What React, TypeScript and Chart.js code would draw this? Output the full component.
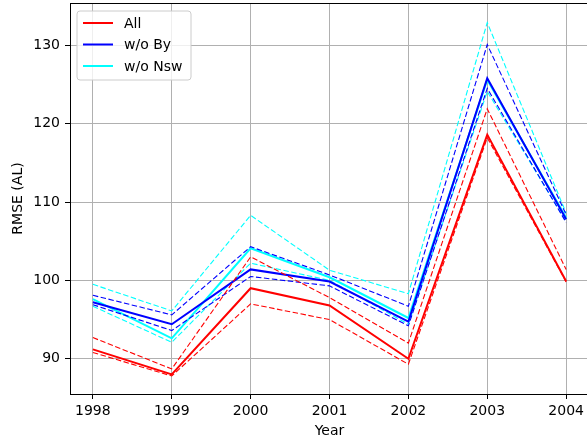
import React, { useEffect, useRef } from "react";
import { Chart, registerables } from "chart.js";

Chart.register(...registerables);

const years = [1998, 1999, 2000, 2001, 2002, 2003, 2004];
const yTicks = [90, 100, 110, 120, 130];

const allMean = [91.2, 88.0, 99.0, 96.8, 90.0, 118.6, 99.9];
const allHi = [92.7, 88.7, 103.0, 97.8, 92.0, 121.9, 101.4];
const allLo = [90.8, 87.8, 97.0, 95.0, 89.3, 118.2, 99.8];

const byMean = [97.2, 94.4, 101.4, 99.85, 94.75, 125.8, 107.8];
const byHi = [98.1, 95.6, 104.3, 100.7, 96.7, 130.1, 108.4];
const byLo = [96.9, 93.6, 100.5, 99.3, 94.2, 124.5, 107.4];

const nswMean = [97.6, 92.6, 104.1, 100.4, 95.2, 125.6, 108.0];
const nswHi = [99.5, 96.1, 108.3, 101.3, 98.3, 132.9, 108.6];
const nswLo = [96.7, 92.1, 102.2, 100.0, 94.4, 124.1, 107.5];

const seriesNames = ["All", "w/o By", "w/o Nsw"];
const seriesColors = ["#ff0000", "#0000ff", "#00ffff"];

const FONT = "'DejaVu Sans', sans-serif";
const FS = 14;

const toPts = (arr: number[]) => arr.map((v, i) => ({ x: years[i], y: v }));

export default function App() {
  const ref = useRef<HTMLCanvasElement | null>(null);

  useEffect(() => {
    if (!ref.current) return;
    const groups = [
      [allMean, allHi, allLo],
      [byMean, byHi, byLo],
      [nswMean, nswHi, nswLo],
    ];
    const datasets: any[] = [];
    groups.forEach((g, gi) => {
      const color = seriesColors[gi];
      datasets.push({
        label: seriesNames[gi],
        data: toPts(g[0]),
        borderColor: color,
        borderWidth: 2,
        pointRadius: 0,
        fill: false,
        tension: 0,
      });
      [g[1], g[2]].forEach((d) => {
        datasets.push({
          label: "",
          data: toPts(d),
          borderColor: color,
          borderWidth: 1.1,
          borderDash: [5.5, 2.5],
          pointRadius: 0,
          fill: false,
          tension: 0,
        });
      });
    });

    const framePlugin = {
      id: "frame",
      afterDraw(chart: any) {
        const { ctx, chartArea } = chart;
        ctx.save();
        ctx.strokeStyle = "#000";
        ctx.lineWidth = 1;
        ctx.strokeRect(
          Math.round(chartArea.left) + 0.5,
          Math.round(chartArea.top) + 0.5,
          chartArea.right - chartArea.left,
          chartArea.bottom - chartArea.top
        );
        // legend
        const bx = 77, by = 11, bw = 114, bh = 69;
        ctx.fillStyle = "rgba(255,255,255,0.8)";
        ctx.strokeStyle = "#cccccc";
        ctx.beginPath();
        const r = 3;
        ctx.moveTo(bx + r, by);
        ctx.lineTo(bx + bw - r, by);
        ctx.quadraticCurveTo(bx + bw, by, bx + bw, by + r);
        ctx.lineTo(bx + bw, by + bh - r);
        ctx.quadraticCurveTo(bx + bw, by + bh, bx + bw - r, by + bh);
        ctx.lineTo(bx + r, by + bh);
        ctx.quadraticCurveTo(bx, by + bh, bx, by + bh - r);
        ctx.lineTo(bx, by + r);
        ctx.quadraticCurveTo(bx, by, bx + r, by);
        ctx.closePath();
        ctx.fill();
        ctx.stroke();
        ctx.font = `${FS}px ${FONT}`;
        ctx.textBaseline = "middle";
        seriesNames.forEach((n, i) => {
          const yy = 23 + i * 21.5;
          ctx.strokeStyle = seriesColors[i];
          ctx.lineWidth = 2;
          ctx.beginPath();
          ctx.moveTo(83, yy);
          ctx.lineTo(113, yy);
          ctx.stroke();
          ctx.fillStyle = "#000";
          ctx.fillText(n, 124, yy + 1);
        });
        ctx.restore();
      },
    };

    const chart = new Chart(ref.current, {
      type: "line",
      data: { datasets },
      plugins: [framePlugin],
      options: {
        animation: false,
        responsive: false,
        maintainAspectRatio: false,
        layout: { padding: { top: 3, right: 11, left: 0, bottom: 0 } },
        plugins: {
          legend: { display: false },
          tooltip: { enabled: false },
        },
        scales: {
          x: {
            type: "linear",
            min: 1997.71,
            max: 2004.29,
            afterBuildTicks: (axis: any) => {
              axis.ticks = years.map((v) => ({ value: v }));
            },
            afterFit: (axis: any) => {
              axis.height = 46;
              axis.paddingLeft = 0;
              axis.paddingRight = 0;
            },
            ticks: {
              callback: (v: any) => String(v),
              color: "#000",
              font: { family: FONT, size: FS },
              padding: 4,
              maxRotation: 0,
              autoSkip: false,
            },
            grid: {
              color: "#b0b0b0",
              lineWidth: 1,
              tickLength: 5,
              tickColor: "#000",
            },
            border: { display: false },
            title: {
              display: true,
              text: "Year",
              color: "#000",
              font: { family: FONT, size: FS },
              padding: { top: 0, bottom: 0 },
            },
          },
          y: {
            type: "linear",
            min: 85.5,
            max: 135.4,
            afterBuildTicks: (axis: any) => {
              axis.ticks = yTicks.map((v) => ({ value: v }));
            },
            afterFit: (axis: any) => {
              axis.width = 70;
              axis.paddingTop = 0;
              axis.paddingBottom = 0;
            },
            ticks: {
              color: "#000",
              font: { family: FONT, size: FS },
              padding: 5,
            },
            grid: {
              color: "#b0b0b0",
              lineWidth: 1,
              tickLength: 5,
              tickColor: "#000",
            },
            border: { display: false },
            title: {
              display: true,
              text: "RMSE (AL)",
              color: "#000",
              font: { family: FONT, size: FS },
              padding: { top: 10, bottom: 0 },
            },
          },
        },
      },
    });
    return () => chart.destroy();
  }, []);

  return (
    <div style={{ position: "fixed", left: 0, top: 0, width: 587, height: 440, overflow: "hidden", background: "#fff" }}>
      <canvas ref={ref} width={600} height={440} style={{ display: "block" }} />
    </div>
  );
}
